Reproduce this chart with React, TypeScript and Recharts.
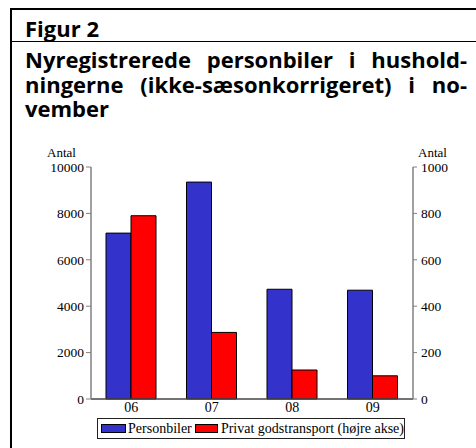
import React from "react";
import { BarChart, Bar, XAxis, YAxis, Legend } from "recharts";

const categories = ["06", "07", "08", "09"];
const personbiler = [7150, 9350, 4730, 4690];
const godstransport = [790, 287, 125, 100];
const leftTicks = [0, 2000, 4000, 6000, 8000, 10000];
const rightTicks = [0, 200, 400, 600, 800, 1000];

const seriesNames = {
  personbiler: "Personbiler",
  godstransport: "Privat godstransport (højre akse)",
};

const data = categories.map((c, i) => ({
  cat: c,
  personbiler: personbiler[i],
  godstransport: godstransport[i],
}));

const BLUE = "#3333CC";
const RED = "#FF0000";
const SERIF = "'Liberation Serif', 'Times New Roman', serif";
const SANS = "'Open Sans', 'Noto Sans', sans-serif";

const LegendContent = () => (
  <div
    style={{
      boxSizing: "border-box",
      width: 308,
      height: 21,
      border: "1px solid #222",
      display: "flex",
      alignItems: "center",
      paddingLeft: 3,
      fontFamily: SERIF,
      fontSize: 14,
      color: "#000",
      whiteSpace: "nowrap",
      background: "#fff",
    }}
  >
    <span style={{ display: "inline-block", width: 24, height: 7, background: BLUE, border: "1px solid #000", marginRight: 2 }} />
    <span style={{ marginRight: 3 }}>{seriesNames.personbiler}</span>
    <span style={{ display: "inline-block", width: 22, height: 7, background: RED, border: "1px solid #000", marginRight: 3 }} />
    <span>{seriesNames.godstransport}</span>
  </div>
);

const lineStyle = (s: React.CSSProperties): React.CSSProperties => ({
  position: "absolute",
  background: "#000",
  ...s,
});

const titleLine = (top: number, text: string, justify: boolean) => (
  <div
    style={{
      position: "absolute",
      left: 25,
      top,
      width: 442,
      height: 24,
      fontFamily: SANS,
      fontWeight: 700,
      fontSize: 22,
      lineHeight: "24px",
      textAlign: justify ? "justify" : "left",
      textAlignLast: justify ? "justify" : "left",
      color: "#000",
      whiteSpace: "nowrap",
    }}
  >
    {text}
  </div>
);

export default function App() {
  return (
    <div
      style={{
        position: "absolute",
        left: 0,
        top: 0,
        width: 476,
        height: 448,
        background: "#fff",
        overflow: "hidden",
      }}
    >
      <div style={lineStyle({ left: 10, top: 8, width: 466, height: 1.5 })} />
      <div style={lineStyle({ left: 10, top: 8, width: 1.5, height: 440 })} />
      <div style={lineStyle({ left: 10, top: 40.5, width: 466, height: 1.5 })} />

      {titleLine(16, "Figur 2", false)}
      {titleLine(47, "Nyregistrerede personbiler i hushold-", true)}
      {titleLine(72, "ningerne (ikke-sæsonkorrigeret) i no-", true)}
      {titleLine(96, "vember", false)}

      <div style={{ position: "absolute", left: 47, top: 145, fontFamily: SERIF, fontSize: 13, color: "#000" }}>Antal</div>
      <div style={{ position: "absolute", left: 418, top: 145, fontFamily: SERIF, fontSize: 13, color: "#000" }}>Antal</div>

      <div style={{ position: "absolute", left: 0, top: 0 }}>
        <BarChart
          width={476}
          height={448}
          data={data}
          margin={{ top: 167, right: 13, left: 41, bottom: 29 }}
          barCategoryGap={15}
          barGap={0}
        >
          <XAxis
            dataKey="cat"
            axisLine={{ stroke: "#444", strokeWidth: 1.5 }}
            tickLine={false}
            tickSize={0}
            tickMargin={3}
            height={20}
            tick={{ fill: "#000", fontSize: 14, fontFamily: SERIF }}
          />
          <YAxis
            yAxisId="left"
            width={50}
            domain={[0, 10000]}
            ticks={leftTicks}
            interval={0}
            axisLine={{ stroke: "#808080", strokeWidth: 1.5 }}
            tickLine={{ stroke: "#808080" }}
            tickSize={5}
            tickMargin={2}
            tick={{ fill: "#000", fontSize: 13.5, fontFamily: SERIF }}
          />
          <YAxis
            yAxisId="right"
            orientation="right"
            width={50}
            domain={[0, 1000]}
            ticks={rightTicks}
            interval={0}
            axisLine={{ stroke: "#808080", strokeWidth: 1.5 }}
            tickLine={{ stroke: "#808080" }}
            tickSize={4}
            tickMargin={4}
            tick={{ fill: "#000", fontSize: 13.5, fontFamily: SERIF }}
          />
          <Legend
            verticalAlign="middle"
            layout="horizontal"
            content={() => <LegendContent />}
            wrapperStyle={{ left: 97, top: 418, width: 308, height: 21 }}
          />
          <Bar
            yAxisId="left"
            dataKey="personbiler"
            name={seriesNames.personbiler}
            fill={BLUE}
            stroke="#000"
            strokeWidth={1}
            isAnimationActive={false}
          />
          <Bar
            yAxisId="right"
            dataKey="godstransport"
            name={seriesNames.godstransport}
            fill={RED}
            stroke="#000"
            strokeWidth={1}
            isAnimationActive={false}
          />
        </BarChart>
      </div>
    </div>
  );
}
